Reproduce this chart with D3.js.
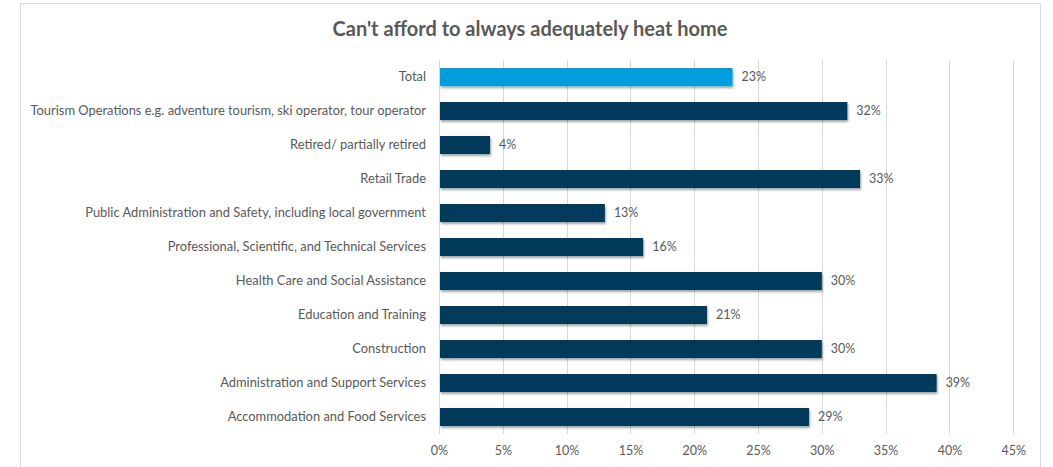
<!DOCTYPE html>
<html>
<head>
<meta charset="utf-8">
<script src="https://cdn.jsdelivr.net/npm/d3@7"></script>
<style>
  html, body { margin: 0; padding: 0; background: #fff; }
  svg { display: block; }
  text { font-family: Lato, "Open Sans", sans-serif; fill: #595959; }
</style>
</head>
<body>
<svg id="chart" width="1053" height="467"></svg>
<script>
// Categories, top to bottom
const categories = [
  "Total",
  "Tourism Operations e.g. adventure tourism, ski operator, tour operator",
  "Retired/ partially retired",
  "Retail Trade",
  "Public Administration and Safety, including local government",
  "Professional, Scientific, and Technical Services",
  "Health Care and Social Assistance",
  "Education and Training",
  "Construction",
  "Administration and Support Services",
  "Accommodation and Food Services"
];
// Share of respondents (%)
const values = [23, 32, 4, 33, 13, 16, 30, 21, 30, 39, 29];
const tickValues = [0, 5, 10, 15, 20, 25, 30, 35, 40, 45];
const title = "Can't afford to always adequately heat home";

const svg = d3.select("#chart");
const W = 1053, H = 467;
const margin = { left: 439, right: 40, top: 60, bottom: 33 };

// Chart frame
svg.append("rect")
  .attr("x", 20.5).attr("y", 3.5)
  .attr("width", 1020).attr("height", H + 10)
  .attr("fill", "#fff").attr("stroke", "#d9d9d9");

const defs = svg.append("defs");
const f = defs.append("filter").attr("id", "shadow")
  .attr("x", "-5%").attr("y", "-20%").attr("width", "110%").attr("height", "160%");
f.append("feDropShadow").attr("dx", 1).attr("dy", 2).attr("stdDeviation", 1.2)
  .attr("flood-color", "#000").attr("flood-opacity", 0.35);

const x = d3.scaleLinear().domain([0, 45]).range([margin.left, margin.left + 9 * 63.8]);
const y = d3.scaleBand().domain(categories)
  .range([margin.top, margin.top + 34 * categories.length])
  .paddingInner(0.47).paddingOuter(0.235);
const plotBottom = margin.top + 34 * categories.length;

// Vertical gridlines
svg.append("g").selectAll("line").data(tickValues.slice(1)).join("line")
  .attr("x1", d => Math.round(x(d)) + 0.5).attr("x2", d => Math.round(x(d)) + 0.5)
  .attr("y1", margin.top).attr("y2", plotBottom)
  .attr("stroke", "#d9d9d9").attr("stroke-width", 1);

// Category axis line
svg.append("line")
  .attr("x1", x(0) + 0.5).attr("x2", x(0) + 0.5)
  .attr("y1", margin.top).attr("y2", plotBottom)
  .attr("stroke", "#d9d9d9");

// Value axis labels
const xAxis = d3.axisBottom(x).tickValues(tickValues).tickSize(0).tickPadding(0)
  .tickFormat(d => d + "%");
const gx = svg.append("g").attr("transform", `translate(0,${plotBottom + 12})`).call(xAxis);
gx.select(".domain").remove();
gx.selectAll("text").attr("font-size", 12.5).attr("fill", "#595959")
  .style("font-family", "Lato, 'Open Sans', sans-serif");

// Category labels
const yAxis = d3.axisLeft(y).tickSize(0).tickPadding(13);
const gy = svg.append("g").attr("transform", `translate(${x(0)},0)`).call(yAxis);
gy.select(".domain").remove();
gy.selectAll("text").attr("font-size", 12.9).attr("fill", "#595959")
  .style("font-family", "Lato, 'Open Sans', sans-serif");

// Bars
svg.append("g").selectAll("rect").data(categories).join("rect")
  .attr("x", x(0) + 1)
  .attr("y", d => y(d))
  .attr("width", (d, i) => x(values[i]) - x(0) - 1)
  .attr("height", y.bandwidth())
  .attr("fill", (d, i) => i === 0 ? "#009ddc" : "#023a5c")
  .attr("filter", "url(#shadow)");

// Data labels
svg.append("g").selectAll("text").data(categories).join("text")
  .attr("x", (d, i) => x(values[i]) + 9)
  .attr("y", d => y(d) + y.bandwidth() / 2)
  .attr("dy", "0.35em")
  .attr("font-size", 12.5)
  .text((d, i) => values[i] + "%");

// Title
svg.append("text")
  .attr("x", 530).attr("y", 36)
  .attr("text-anchor", "middle")
  .attr("font-size", 20).attr("font-weight", "bold")
  .text(title);
</script>
</body>
</html>
